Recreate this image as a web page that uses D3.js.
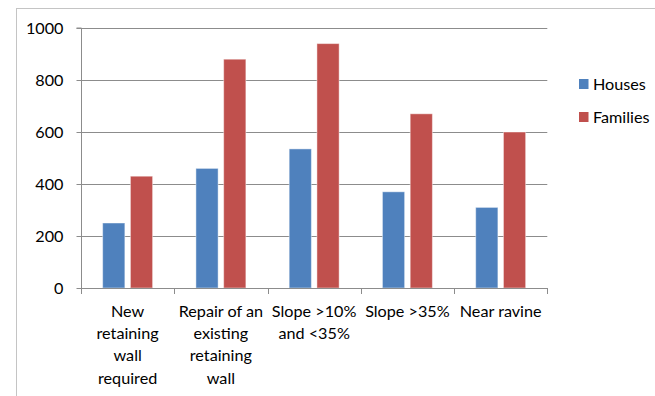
<!DOCTYPE html>
<html>
<head>
<meta charset="utf-8">
<script src="https://cdn.jsdelivr.net/npm/d3@7"></script>
<style>
  html, body { margin: 0; padding: 0; background: #fff; }
  svg { display: block; font-family: Lato, "Open Sans", sans-serif; }
</style>
</head>
<body>
<svg id="chart" width="655" height="396"></svg>
<script>
// Categories, each split into the lines shown under the axis
const categories = ["New retaining wall required", "Repair of an existing retaining wall", "Slope >10% and <35%", "Slope >35%", "Near ravine"];
const categoryLines = [
  ["New", "retaining", "wall", "required"],
  ["Repair of an", "existing", "retaining", "wall"],
  ["Slope >10%", "and <35%"],
  ["Slope >35%"],
  ["Near ravine"]
];
const seriesNames = ["Houses", "Families"];
const houses = [250, 460, 535, 370, 310];
const families = [430, 880, 940, 670, 600];
const yTicks = [0, 200, 400, 600, 800, 1000];
const colors = ["#4F81BD", "#C0504D"];

const svg = d3.select("#chart");
const margin = { left: 81, top: 28, right: 547.3, bottom: 288 };
const fontSize = "16.2px";

// outer chart frame (runs past the right and bottom edges)
svg.append("rect")
  .attr("x", 16.5).attr("y", 8.5)
  .attr("width", 700).attr("height", 420)
  .attr("fill", "none").attr("stroke", "#c4c4c4").attr("stroke-width", 1);

const x = d3.scaleBand().domain(categories).range([margin.left, margin.right]).paddingInner(0).paddingOuter(0);
const x1 = d3.scaleBand().domain(seriesNames).range([0, x.bandwidth()]).paddingInner(0.2).paddingOuter(0.78);
const y = d3.scaleLinear().domain([0, 1000]).range([margin.bottom, margin.top]);

// horizontal gridlines
svg.append("g").selectAll("line").data(yTicks.filter(d => d > 0)).join("line")
  .attr("x1", margin.left).attr("x2", margin.right)
  .attr("y1", d => Math.round(y(d)) + 0.5).attr("y2", d => Math.round(y(d)) + 0.5)
  .attr("stroke", "#8c8c8c").attr("stroke-width", 1);

// bars
const series = [houses, families];
const g = svg.append("g");
series.forEach((vals, si) => {
  g.selectAll(null).data(vals).join("rect")
    .attr("x", (d, i) => x(categories[i]) + x1(seriesNames[si]))
    .attr("width", x1.bandwidth())
    .attr("y", d => y(d))
    .attr("height", d => y(0) - y(d))
    .attr("fill", colors[si])
    .attr("stroke", "#ffffff").attr("stroke-opacity", 0.45).attr("stroke-width", 1);
});

// y axis
const yAxis = d3.axisLeft(y).tickValues(yTicks).tickSize(5).tickPadding(13).tickFormat(d3.format("d"));
const ya = svg.append("g").attr("transform", `translate(${margin.left + 0.5},0)`).call(yAxis);
ya.select(".domain").attr("stroke", "#8c8c8c").attr("d", `M-5,${y(1000)}H0V${y(0)}`);
ya.selectAll(".tick line").attr("stroke", "#8c8c8c");
ya.selectAll(".tick text").attr("fill", "#000").attr("font-size", fontSize).attr("font-family", "Lato, sans-serif");

// x axis baseline and category separator ticks
const xa = svg.append("g");
xa.append("line")
  .attr("x1", margin.left).attr("x2", margin.right)
  .attr("y1", Math.round(y(0)) + 0.5).attr("y2", Math.round(y(0)) + 0.5)
  .attr("stroke", "#8c8c8c");
const bounds = categories.map(c => x(c)).concat([margin.right]);
xa.selectAll(".sep").data(bounds).join("line")
  .attr("x1", d => Math.round(d) + 0.5).attr("x2", d => Math.round(d) + 0.5)
  .attr("y1", Math.round(y(0))).attr("y2", Math.round(y(0)) + 6)
  .attr("stroke", "#8c8c8c");

// category labels
const lab = xa.selectAll(".lab").data(categories).join("text")
  .attr("text-anchor", "middle")
  .attr("font-size", fontSize)
  .attr("fill", "#000")
  .attr("x", d => x(d) + x.bandwidth() / 2)
  .attr("y", 317);
lab.each(function(d, i) {
  d3.select(this).selectAll("tspan").data(categoryLines[i]).join("tspan")
    .attr("x", x(d) + x.bandwidth() / 2)
    .attr("dy", (t, j) => j === 0 ? 0 : 22.2)
    .text(t => t);
});

// legend
const legend = svg.append("g");
seriesNames.forEach((name, i) => {
  const ly = 79 + i * 33;
  legend.append("rect").attr("x", 579).attr("y", ly).attr("width", 9.5).attr("height", 10)
    .attr("fill", colors[i]);
  legend.append("text").attr("x", 593).attr("y", ly + 11)
    .attr("font-size", fontSize).attr("fill", "#000").text(name);
});
</script>
</body>
</html>
